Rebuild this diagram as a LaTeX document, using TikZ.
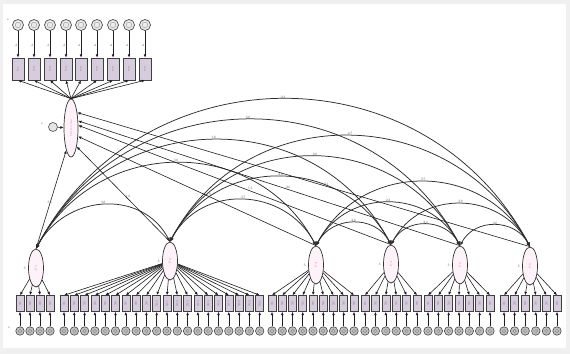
\documentclass[tikz,border=0pt]{standalone}
\usetikzlibrary{arrows.meta,shapes.geometric}
\definecolor{boxfill}{RGB}{214,204,222}
\begin{document}
\begin{tikzpicture}[x=1pt,y=-1pt,
  lat/.style={ellipse, draw=black!80, fill=magenta!5, line width=0.7pt, minimum width=15pt, minimum height=38pt, inner sep=0pt},
  obs/.style={rectangle, draw=black!75, fill=boxfill, line width=0.55pt, minimum width=8pt, minimum height=16pt, inner sep=0pt},
  tobs/.style={rectangle, draw=black!75, fill=boxfill, line width=0.6pt, minimum width=12pt, minimum height=22pt, inner sep=0pt},
  err/.style={circle, draw=black!75, fill=black!25, line width=0.55pt, minimum size=8.5pt, inner sep=0pt},
  terr/.style={circle, draw=black!75, fill=black!8, line width=0.65pt, minimum size=11pt, inner sep=0pt},
  arr/.style={-{Latex[length=3.4pt,width=2.8pt]}, line width=0.6pt, draw=black!88},
  cov/.style={{Latex[length=4pt,width=3.4pt]}-{Latex[length=4pt,width=3.4pt]}, line width=0.75pt, draw=black!82},
  lbl/.style={font=\fontsize{3.4}{3.8}\selectfont, text=black!60, inner sep=0.4pt},
  intxt/.style={font=\fontsize{2.6}{3}\selectfont, text=black!60, rotate=90, inner sep=0pt},
  lattxt/.style={font=\fontsize{3.2}{3.6}\selectfont, text=magenta!55, rotate=90, inner sep=0pt},
]
\fill[black!6] (0,0) rectangle (570,354);
\fill[white] (3,4) rectangle (566,348);
\useasboundingbox (0,0) rectangle (570,354);

% ---------- top block ----------
\node[lat, minimum width=14pt, minimum height=58pt] (T) at (71,128) {};
\node[lattxt] at (T) {Outcome};
\node[err, minimum size=9pt, fill=black!10] (eT) at (53,127) {};
\node[lbl] at (42,124) {e};
\draw[arr] (eT) -- (T);
\node[lbl] at (8,20) {e};
\foreach \x [count=\k] in {18,34,50,66,81,97,113,129,145}{
  \node[terr] (te\k) at (\x,25) {};
  \draw[black!45, line width=0.35pt] (te\k) circle[radius=2.8pt];
  \node[tobs] (tb\k) at (\x,69) {};
  \node[intxt] at (tb\k) {Y\k};
  \draw[arr] (te\k) -- (tb\k) node[lbl,pos=0.55,left=0.2pt]{.4};
  \draw[arr] (T.north) -- (tb\k.south);
}

% ---------- bottom groups ----------
\node[lbl] at (9,328) {e};
\foreach \g/\cx/\cy/\xs/\dx/\n in {1/36/268/20/10/4, 2/170/261/64/10.3/20, 3/316/265/272/10.25/9, 4/391/264/365/10.4/6, 5/460/265/428/10.33/7, 6/530/266/504/10.6/6} {
  \node[lat] (L\g) at (\cx,\cy) {};
  \node[lattxt] at (L\g) {F\g};
  \node[lbl, left=1.5pt] at (L\g.west) {.5};
  \foreach \j in {1,...,\n} {
    \pgfmathsetmacro\xx{\xs+(\j-1)*\dx}
    \node[obs] (b\g-\j) at (\xx,303.5) {};
    \node[intxt] at (b\g-\j) {X\j};
    \node[err] (c\g-\j) at (\xx,331) {};
    \draw[black!50, line width=0.3pt] (c\g-\j) circle[radius=1.8pt];
    \draw[arr] (c\g-\j) -- (b\g-\j.south);
    \draw[arr] (L\g) -- (b\g-\j.north);
  }
}

% ---------- covariances ----------
\foreach \i/\j/\t in {1/2/38,1/3/30,1/4/18,1/5/40,1/6/23,2/3/37,2/4/28,2/5/26,2/6/47,3/4/28,3/5/22,3/6/37,4/5/29,4/6/38,5/6/36} {
  \draw[cov] (L\i.north) to[out=62,in=118,looseness=1.16] node[lbl,pos=0.5,above=0.2pt]{\t} (L\j.north);
}

% ---------- structural paths ----------
\foreach \g/\a/\t in {1/-102/35,2/-73/16,3/-50/19,4/20/13,5/45/26,6/68/21} {
  \draw[arr] (L\g.north) -- (T.\a) node[lbl,pos=0.45,above=0.2pt]{\t};
}
\end{tikzpicture}
\end{document}
